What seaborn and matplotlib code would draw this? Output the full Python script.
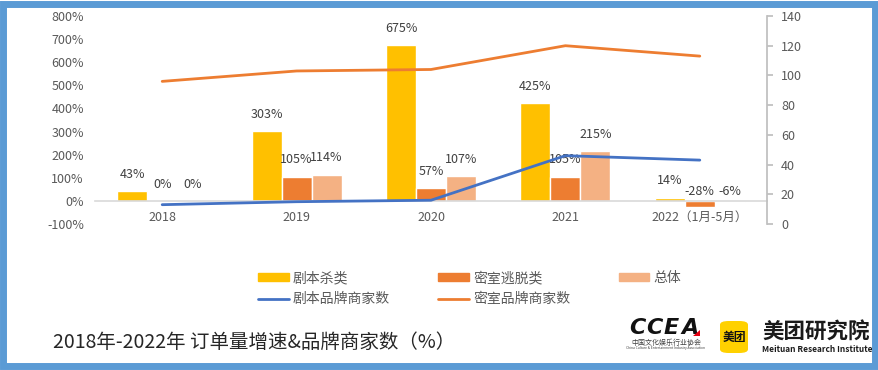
import numpy as np
import pandas as pd
import seaborn as sns
import matplotlib.pyplot as plt
from matplotlib.patches import Patch, Rectangle, FancyBboxPatch, Polygon
from matplotlib.lines import Line2D

# 数据
years = ["2018", "2019", "2020", "2021", "2022（1月-5月）"]
jubensha = [43, 303, 675, 425, 14]
mishi = [0, 105, 57, 105, -28]
zongti = [0, 114, 107, 215, -6]
jbs_brands = [13, 15, 16, 46, 43]
ms_brands = [96, 103, 104, 120, 113]

bar_names = ["剧本杀类", "密室逃脱类", "总体"]
bar_colors = ["#FFC000", "#ED7D31", "#F4B183"]
blue = "#4472C4"
orange = "#ED7D31"

df = pd.DataFrame({
    "年份": years * 3,
    "增速": jubensha + mishi + zongti,
    "类别": np.repeat(bar_names, len(years)),
})

sns.set_theme(style="white")
plt.rcParams["font.family"] = ["Noto Sans CJK SC", "DejaVu Sans"]

fig = plt.figure(figsize=(8.79, 3.70), dpi=100)
ax = fig.add_axes([95 / 879, 146 / 370, 672 / 879, 208 / 370])

sns.barplot(data=df, x="年份", y="增速", hue="类别", palette=bar_colors,
            width=0.67, gap=0, saturation=1, legend=False, ax=ax)

# 数据标签
for cont in ax.containers:
    for bar in cont:
        y0, h = bar.get_y(), bar.get_height()
        v = int(round(y0 + h)) if y0 >= 0 else int(round(y0))
        off = 12 if v >= 0 else 7
        ax.annotate(f"{v}%", (bar.get_x() + bar.get_width() / 2, max(v, 0)),
                    xytext=(0, off), textcoords="offset points",
                    ha="center", va="center", fontsize=9, color="#404040")

ax.set_ylim(-100, 800)
ax.set_xlim(-0.5, 4.5)
yt = list(range(-100, 900, 100))
ax.set_yticks(yt)
ax.set_yticklabels([f"{t}%" for t in yt])
ax.set_xlabel("")
ax.set_ylabel("")
for s in ["left", "top", "right"]:
    ax.spines[s].set_visible(False)
ax.spines["bottom"].set_position(("data", 0))
ax.spines["bottom"].set_color("#D9D9D9")
ax.spines["bottom"].set_linewidth(1.2)
ax.tick_params(axis="x", length=0, pad=7, labelsize=9, labelcolor="#595959")
ax.tick_params(axis="y", length=0, pad=8, labelsize=9, labelcolor="#595959")

# 品牌商家数（次坐标轴）
ax2 = ax.twinx()
sns.lineplot(x=years, y=jbs_brands, color=blue, lw=2, sort=False, ax=ax2)
sns.lineplot(x=years, y=ms_brands, color=orange, lw=2, sort=False, ax=ax2)
ax2.set_ylim(0, 140)
ax2.set_yticks(range(0, 160, 20))
ax2.set_ylabel("")
for s in ["left", "top", "bottom"]:
    ax2.spines[s].set_visible(False)
ax2.spines["right"].set_color("#BFBFBF")
ax2.tick_params(axis="y", direction="out", length=4, color="#BFBFBF", pad=6,
                labelsize=9, labelcolor="#595959", right=True)

# 图例
handles = [Patch(color=bar_colors[0]), Line2D([], [], color=blue, lw=2),
           Patch(color=bar_colors[1]), Line2D([], [], color=orange, lw=2),
           Patch(color=bar_colors[2])]
labels = ["剧本杀类", "剧本品牌商家数", "密室逃脱类", "密室品牌商家数", "总体"]
leg = fig.legend(handles, labels, ncol=3, loc="center left",
                 bbox_to_anchor=(258 / 879, 1 - 288.5 / 370), frameon=False,
                 fontsize=10, handlelength=2.2, handleheight=0.5,
                 handletextpad=0.3, columnspacing=3.5, labelspacing=0.5,
                 borderpad=0, borderaxespad=0)
for t in leg.get_texts():
    t.set_color("#595959")

# 标题
fig.text(53 / 879, 1 - 342 / 370, "2018年-2022年 订单量增速&品牌商家数（%）",
         fontsize=14, color="#262626", va="center")

# 机构标识
for i, ch in enumerate("CCEA"):
    fig.text((629 + i * 17.5) / 879, 1 - 328 / 370, ch, fontsize=16,
             fontweight="bold", fontstyle="italic", family="DejaVu Sans",
             va="center", color="#111111")
fig.add_artist(Polygon([[693 / 879, 1 - 336 / 370], [700 / 879, 1 - 336 / 370],
                        [700 / 879, 1 - 330 / 370]], closed=True,
                       transform=fig.transFigure, fc="#E60012", ec="none", zorder=5))
fig.text(666 / 879, 1 - 343 / 370, "中国文化娱乐行业协会", fontsize=5,
         color="#404040", va="center", ha="center")
fig.text(666 / 879, 1 - 348 / 370, "China Culture & Entertainment Industry Association",
         fontsize=2.4, color="#404040", va="center", ha="center")
fig.add_artist(FancyBboxPatch((720 / 879, 1 - 353 / 370), 28 / 879, 32 / 370,
                              boxstyle="round,pad=0,rounding_size=0.01",
                              transform=fig.transFigure, fc="#FFD100", ec="none"))
fig.text(734 / 879, 1 - 337 / 370, "美团", fontsize=8.5, fontweight="bold",
         ha="center", va="center", color="#111111")
fig.text(762 / 879, 1 - 332 / 370, "美团研究院", fontsize=15.5, fontweight="bold",
         va="center", color="#1A1A1A")
fig.text(762 / 879, 1 - 349 / 370, "Meituan Research Institute", fontsize=6,
         fontweight="bold", va="center", color="#1A1A1A")

# 蓝色边框
fig.add_artist(Rectangle((3.5 / 879, 4 / 370), 872 / 879, 362 / 370, fill=False,
                         ec="#5B9BD5", lw=5, transform=fig.transFigure, zorder=10))

fig.savefig("out.png", dpi=100)
